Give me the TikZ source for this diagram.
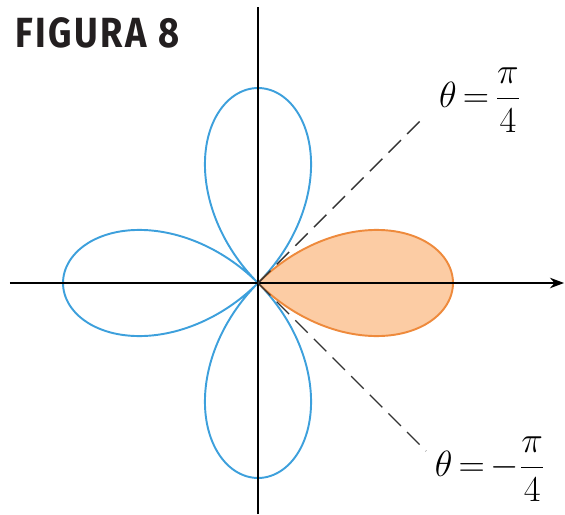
\documentclass[tikz,border=0pt]{standalone}
\usepackage{amsmath}
\usepackage{fontspec}
\newfontfamily\figurafont[FakeStretch=0.86,LetterSpace=6]{Fira Sans}
\usetikzlibrary{arrows.meta}
\definecolor{RoseBlue}{HTML}{3DA0DC}
\definecolor{RoseOrange}{HTML}{EE8A3C}
\definecolor{RoseFill}{HTML}{FCCCA4}
\definecolor{FigText}{HTML}{231F20}
\tikzset{
  rose curve/.style={draw=RoseBlue,line width=1.1pt},
  rose petal/.style={draw=RoseOrange,fill=RoseFill,line width=1.1pt},
  rose axis/.style={draw=black,line width=0.8pt},
  rose ray/.style={draw=black!80,dash pattern=on 10pt off 5pt,line width=0.8pt},
  rose label/.style={font=\fontsize{20}{24}\selectfont,inner sep=0pt},
  fig title/.style={font=\figurafont\bfseries\fontsize{24}{28}\selectfont,
    text=FigText,inner sep=0pt,anchor=west}
}

\begin{document}
\begin{tikzpicture}
  \useasboundingbox (-5.16,-4.62) rectangle (6.14,5.66);

  % petals r = cos(2 theta)
  \fill[rose petal,draw=none] plot[domain=-45:45,samples=120,smooth]
    (\x:{3.9*cos(2*\x)}) -- cycle;
  \draw[rose curve] plot[domain=45:315,samples=300,smooth] (\x:{3.9*cos(2*\x)});
  \draw[rose petal,fill=none] plot[domain=-45:45,samples=120,smooth] (\x:{3.9*cos(2*\x)});

  % axes
  \coordinate (origin) at (0,0);
  \coordinate (xmin) at (-4.96,0);
  \coordinate (xmax) at (6.12,0);
  \coordinate (ymin) at (0,-4.62);
  \coordinate (ymax) at (0,5.52);
  \draw[rose axis,-{Stealth[length=8pt,width=6pt]}] (xmin) -- (xmax);
  \draw[rose axis] (ymin) -- (ymax);

  % rays
  \coordinate (rayup) at (3.34,3.34);
  \coordinate (raydown) at (3.36,-3.36);
  \draw[rose ray] (origin) -- (rayup);
  \draw[rose ray] (origin) -- (raydown);

  \node[rose label] (labup) at (4.44,3.66) {$\theta\,{=}\,\dfrac{\pi}{4}$};
  \node[rose label] (labdown) at (4.64,-3.72) {$\theta\,{=}\,{-}\dfrac{\pi}{4}$};

  \node[fig title] (title) at (-4.86,5.0) {FIGURA 8};
\end{tikzpicture}
\end{document}
